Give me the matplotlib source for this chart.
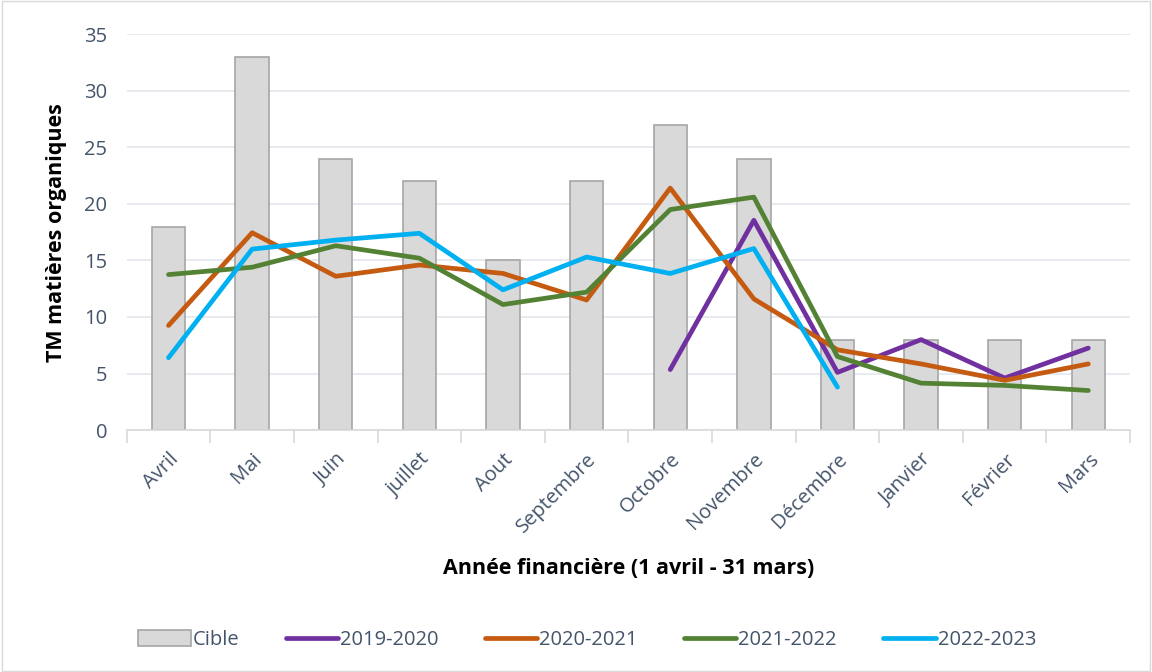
import numpy as np
from matplotlib import pyplot as plt
from matplotlib.patches import Rectangle

mois = ['Avril', 'Mai', 'Juin', 'juillet', 'Aout', 'Septembre', 'Octobre',
        'Novembre', 'Décembre', 'Janvier', 'Février', 'Mars']
cible = [18, 33, 24, 22, 15, 22, 27, 24, 8, 8, 8, 8]
s2019 = [None, None, None, None, None, None, 5.35, 18.55, 5.1, 8.0, 4.6, 7.25]
s2020 = [9.25, 17.45, 13.6, 14.6, 13.85, 11.5, 21.4, 11.6, 7.1, 5.85, 4.4, 5.85]
s2021 = [13.75, 14.4, 16.3, 15.2, 11.1, 12.2, 19.5, 20.6, 6.5, 4.15, 3.95, 3.5]
s2022 = [6.4, 16.0, 16.8, 17.4, 12.4, 15.3, 13.85, 16.05, 3.8, None, None, None]

plt.rcParams['font.family'] = ['Open Sans', 'DejaVu Sans']
texte = '#44546A'

fig = plt.figure(figsize=(11.52, 6.72), dpi=100)
fig.patches.append(Rectangle((0.002, 0.002), 0.996, 0.996, transform=fig.transFigure,
                             fill=False, edgecolor='#D9D9D9', linewidth=1))
ax = fig.add_axes([0.110, 0.360, 0.871, 0.589])

X = np.arange(len(mois))
barres = ax.bar(X, cible, width=0.4, color='#D9D9D9', edgecolor='#A6A6A6',
                linewidth=1.2, label='Cible', zorder=2)

lignes = []
def trace(vals, couleur, nom):
    v = np.array([np.nan if a is None else a for a in vals], dtype=float)
    l, = ax.plot(X, v, color=couleur, linewidth=3.4, solid_capstyle='round',
                 solid_joinstyle='round', label=nom, zorder=3)
    lignes.append(l)

trace(s2019, '#7030A0', '2019-2020')
trace(s2020, '#C55A11', '2020-2021')
trace(s2021, '#548235', '2021-2022')
trace(s2022, '#00B0F0', '2022-2023')

ax.set_xlim(-0.5, len(mois) - 0.5)
ax.set_ylim(0, 35)
ax.set_yticks(range(0, 36, 5))
ax.yaxis.grid(True, color='#E3E6EB', linewidth=1.2, zorder=0)
ax.set_axisbelow(True)
for s in ['top', 'right', 'left']:
    ax.spines[s].set_visible(False)
ax.spines['bottom'].set_color('#D9D9D9')
ax.spines['bottom'].set_linewidth(1.2)

ax.set_xticks(X)
ax.set_xticklabels(mois, rotation=45, ha='right', rotation_mode='anchor',
                   fontsize=14.5, color=texte)
ax.tick_params(axis='x', length=0, pad=14)
ax.set_xticks(np.arange(-0.5, len(mois), 1), minor=True)
ax.tick_params(axis='x', which='minor', length=9, color='#D9D9D9', width=1.2)
ax.tick_params(axis='y', length=0, labelsize=14.5, labelcolor=texte, pad=14)

ax.set_ylabel('TM matières organiques', fontsize=15.5, fontweight='bold', labelpad=12)
ax.set_xlabel('Année financière (1 avril - 31 mars)', fontsize=15.5, fontweight='bold',
              labelpad=15)

ax.legend([barres] + lignes, ['Cible', '2019-2020', '2020-2021', '2021-2022', '2022-2023'],
          loc='center', bbox_to_anchor=(0.459, -0.53), ncol=5, frameon=False,
          fontsize=14.5, labelcolor=texte, handlelength=2.6, handleheight=0.8,
          handletextpad=0.1, columnspacing=2.3)

plt.savefig('out.png', dpi=100)
